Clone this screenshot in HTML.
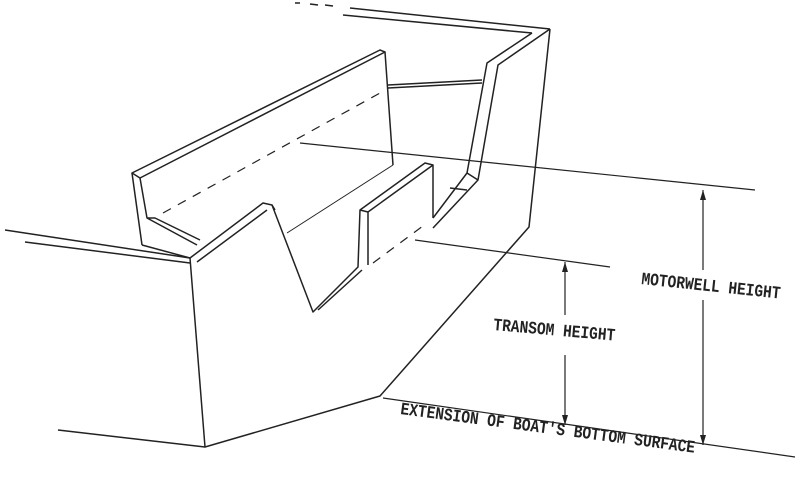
<!DOCTYPE html><html><head><style>body{margin:0;background:#fff}svg{display:block}text{font-family:"Liberation Mono",monospace;font-size:13px;fill:#222;font-weight:bold}</style></head><body>
<svg width="809" height="480" viewBox="0 0 809 480" xmlns="http://www.w3.org/2000/svg">
<g fill="none" stroke="#222" stroke-width="1.5" stroke-linejoin="round">
<path d="M295,3 L300,3 M310,4 L318,5 M325,5 L333,6" />
<path d="M350,8 L550,29 M343,15 L532,33"/>
<path d="M532,33 L487,63 L467,173 L433,218 M550,29 L498,65 L478,180 L433,228"/>
<path d="M467,173 L478,180 M450,188 L467,190"/>
<path d="M550,29 L529,227 L380,396 L205,447 L190,258"/>
<path d="M5,230 L190,258 M25,242 L190,263 M58,430 L205,447"/>
<path d="M132,173 L380,50 L385,52 L140,178 Z"/>
<path d="M132,173 L142,245 M140,178 L147,218 L197,245 M147,218 L155,218 L200,240"/>
<path d="M385,52 L393,165 M388,88 L482,83 M388,85 L482,80"/>
<path d="M190,258 L263,203 L272,205 L313,312 L358,267 L360,210 L425,163 L433,165 L433,218"/>
<path d="M197,262 L267,210 M272,205 L275,210 M318,310 L362,270 M360,210 L368,212 L368,265 M368,212 L433,165"/>
<path d="M142,245 L190,258" />
<path d="M287,233 L393,165" stroke-width="1"/>
<path d="M163,213 L380,93 M373,263 L427,223" stroke-dasharray="9,8" stroke-width="1.2"/>
<path d="M300,143 L755,190 M415,240 L610,267 M383,398 L795,457" stroke-width="1.2"/>
<path d="M703,190 L703,270 M703,300 L703,445 M565,262 L565,315 M565,355 L565,425" stroke-width="1.2"/>
</g>
<g fill="#222">
<path d="M703,190 l-3,10 h6z M703,445 l-3,-10 h6z M565,262 l-3,10 h6z M565,425 l-3,-10 h6z"/>
</g>
<text transform="translate(641,284) rotate(6) scale(1.12,1.35)">MOTORWELL HEIGHT</text>
<text transform="translate(493,330) rotate(5) scale(1.12,1.35)">TRANSOM HEIGHT</text>
<text transform="translate(400,414) rotate(7.5) scale(1.12,1.35)">EXTENSION OF BOAT'S BOTTOM SURFACE</text>
</svg></body></html>
